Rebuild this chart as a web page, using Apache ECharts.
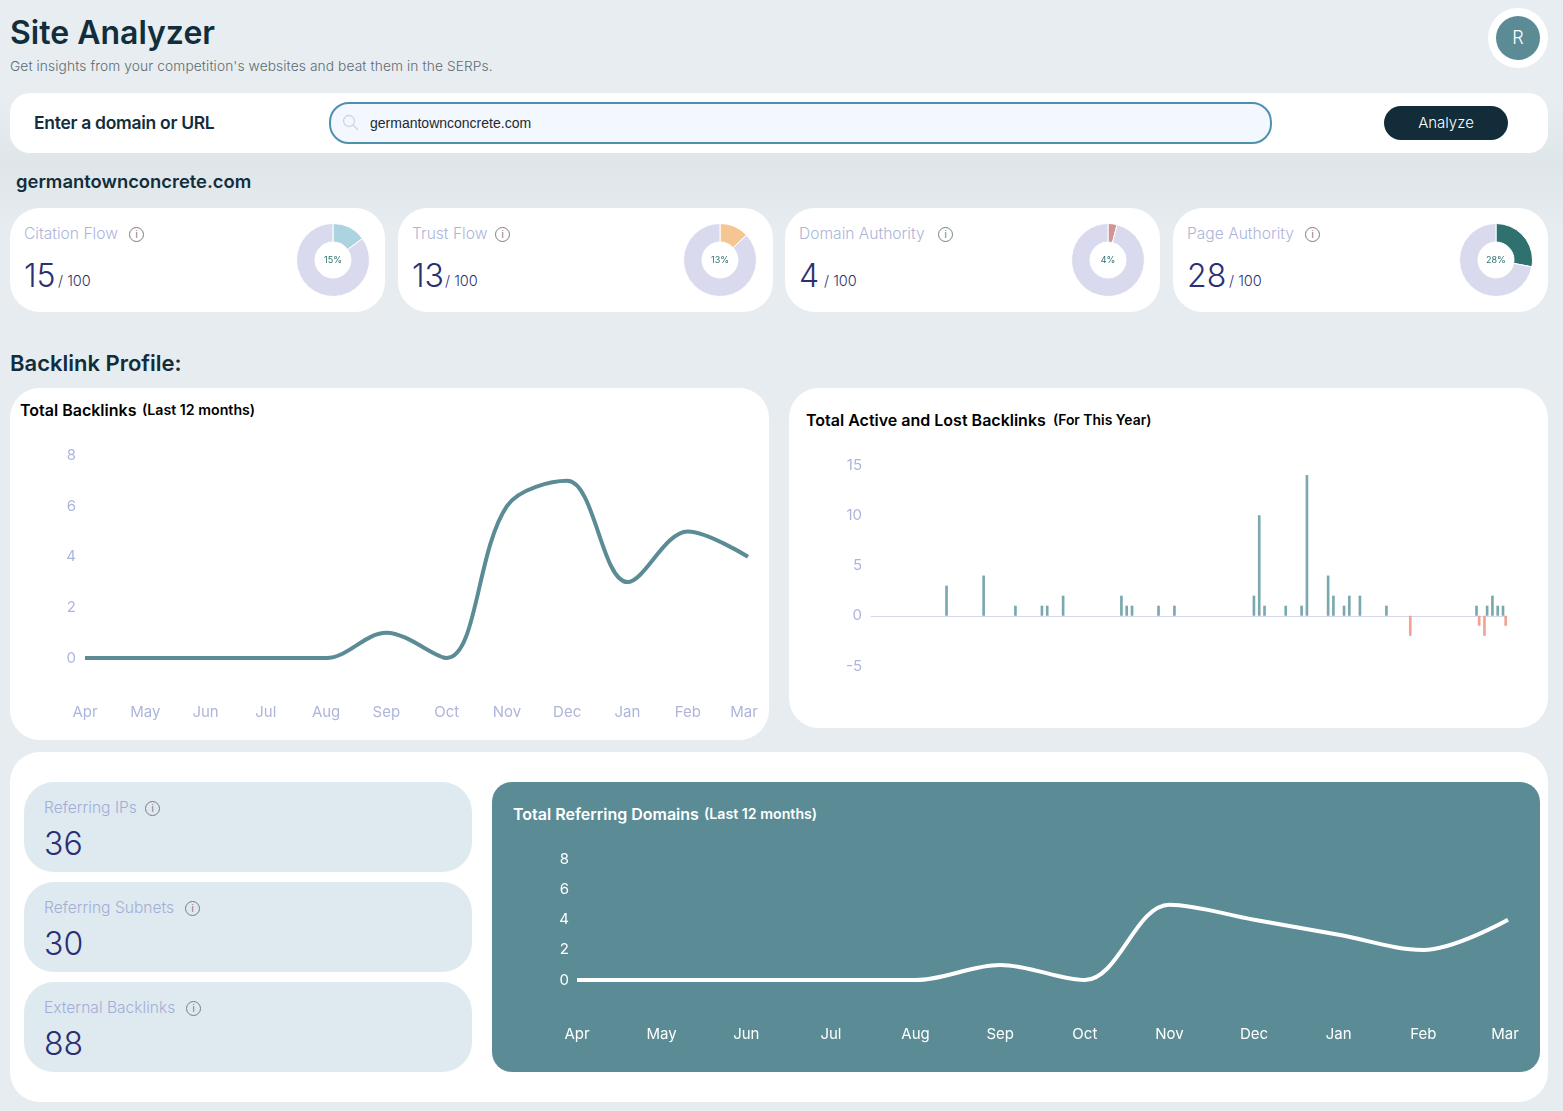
<!DOCTYPE html>
<html>
<head>
<meta charset="utf-8">
<title>Site Analyzer</title>
<script src="https://cdn.jsdelivr.net/npm/echarts@6/dist/echarts.min.js"></script>
<style>
    html, body { margin: 0; padding: 0; }
    body {
        position: relative; width: 1563px; height: 1111px; overflow: hidden;
        background: linear-gradient(#e7edf0 0, #e7edf0 100px, #dfe6e9 165px, #e6ecef 230px);
        font-family: "Inter", sans-serif; color: #122d3b;
    }
    .abs { position: absolute; white-space: nowrap; line-height: 1; }
    .panel { position: absolute; background: #fff; }
    .info {
        position: absolute; width: 13px; height: 13px; border: 1.5px solid #7d7d7d; border-radius: 50%;
        color: #7d7d7d; font-size: 10px; line-height: 13px; text-align: center;
        font-family: "Liberation Sans", sans-serif;
    }
    .chart { position: absolute; }
</style>
</head>
<body>

<div class="abs" style="left:10px;top:17px;font-size:32px;font-weight:600;">Site Analyzer</div>
<div class="abs" style="left:10px;top:60px;font-size:13.75px;font-weight:300;color:#5e6c73;letter-spacing:.1px;">Get insights from your competition's websites and beat them in the SERPs.</div>
<div class="panel" style="left:1488px;top:8px;width:60px;height:60px;border-radius:50%;"></div>
<div class="abs" style="left:1496px;top:16px;width:44px;height:44px;line-height:44px;border-radius:50%;background:#5b8c96;color:#fff;text-align:center;font-size:18px;font-weight:300;">R</div>

<div class="panel" style="left:10px;top:93px;width:1538px;height:60px;border-radius:20px;"></div>
<div class="abs" style="left:34px;top:114px;font-size:17.5px;font-weight:600;letter-spacing:-.3px;">Enter a domain or URL</div>
<div class="abs" style="left:329px;top:102px;width:939px;height:38px;border:2px solid #4f90ae;border-radius:20px;background:#f3f7fe;"></div>
<svg class="abs" style="left:342px;top:114px;" width="18" height="18" viewBox="0 0 18 18" fill="none" stroke="#cdd6e2" stroke-width="1.3"><circle cx="7" cy="7" r="5.5"/><path d="M11 11l5 5"/></svg>
<div class="abs" style="left:370px;top:116px;font-size:14px;font-family:'Liberation Sans',sans-serif;color:#1d2a33;">germantownconcrete.com</div>
<div class="abs" style="left:1384px;top:106px;width:124px;height:34px;line-height:34px;border-radius:17px;background:#122c3a;color:#fff;text-align:center;font-size:15px;font-weight:300;">Analyze</div>

<div class="abs" style="left:16px;top:172px;font-size:18.4px;font-weight:600;">germantownconcrete.com</div>
<div id="scoreCards"></div>

<div class="abs" style="left:10px;top:352px;font-size:22px;font-weight:600;">Backlink Profile:</div>

<div class="panel" style="left:10px;top:388px;width:759px;height:352px;border-radius:30px;"></div>
<div class="abs" style="left:20px;top:402px;font-size:16px;font-weight:600;color:#000;">Total Backlinks</div>
<div class="abs" style="left:142px;top:403px;font-size:14.2px;font-weight:600;color:#000;">(Last 12 months)</div>
<div class="chart" id="backlinksChart" style="left:10px;top:388px;width:759px;height:352px;"></div>

<div class="panel" style="left:789px;top:388px;width:759px;height:340px;border-radius:30px;"></div>
<div class="abs" style="left:806px;top:412px;font-size:16px;font-weight:600;color:#000;">Total Active and Lost Backlinks</div>
<div class="abs" style="left:1053px;top:414px;font-size:13.9px;font-weight:600;color:#000;">(For This Year)</div>
<div class="chart" id="activeLostChart" style="left:789px;top:388px;width:759px;height:340px;"></div>

<div class="panel" style="left:10px;top:752px;width:1538px;height:350px;border-radius:30px;"></div>
<div id="statCards"></div>

<div class="panel" style="left:492px;top:782px;width:1048px;height:290px;border-radius:20px;background:#5b8c96;"></div>
<div class="abs" style="left:513px;top:806px;font-size:16px;font-weight:600;color:#fff;">Total Referring Domains</div>
<div class="abs" style="left:704px;top:807px;font-size:14.2px;font-weight:600;color:#fff;">(Last 12 months)</div>
<div class="chart" id="domainsChart" style="left:492px;top:782px;width:1048px;height:290px;"></div>

<script>
var months = ['Apr', 'May', 'Jun', 'Jul', 'Aug', 'Sep', 'Oct', 'Nov', 'Dec', 'Jan', 'Feb', 'Mar'];
var totalBacklinks = [0, 0, 0, 0, 0, 1, 0, 6, 7, 3, 5, 4];
var referringDomains = [0, 0, 0, 0, 0, 1, 0, 5, 4, 3, 2, 4];

var activeBacklinks = [
    0, 0, 0, 0, 0, 0, 0, 0, 0, 0,
    0, 0, 0, 0, 3, 0, 0, 0, 0, 0,
    0, 4, 0, 0, 0, 0, 0, 1, 0, 0,
    0, 0, 1, 1, 0, 0, 2, 0, 0, 0,
    0, 0, 0, 0, 0, 0, 0, 2, 1, 1,
    0, 0, 0, 0, 1, 0, 0, 1, 0, 0,
    0, 0, 0, 0, 0, 0, 0, 0, 0, 0,
    0, 0, 2, 10, 1, 0, 0, 0, 1, 0,
    0, 1, 14, 0, 0, 0, 4, 2, 0, 1,
    2, 0, 2, 0, 0, 0, 0, 1, 0, 0,
    0, 0, 0, 0, 0, 0, 0, 0, 0, 0,
    0, 0, 0, 0, 1, 0, 1, 2, 1, 1
];
var lostBacklinks = [
    0, 0, 0, 0, 0, 0, 0, 0, 0, 0,
    0, 0, 0, 0, 0, 0, 0, 0, 0, 0,
    0, 0, 0, 0, 0, 0, 0, 0, 0, 0,
    0, 0, 0, 0, 0, 0, 0, 0, 0, 0,
    0, 0, 0, 0, 0, 0, 0, 0, 0, 0,
    0, 0, 0, 0, 0, 0, 0, 0, 0, 0,
    0, 0, 0, 0, 0, 0, 0, 0, 0, 0,
    0, 0, 0, 0, 0, 0, 0, 0, 0, 0,
    0, 0, 0, 0, 0, 0, 0, 0, 0, 0,
    0, 0, 0, 0, 0, 0, 0, 0, 0, 0,
    0, -2, 0, 0, 0, 0, 0, 0, 0, 0,
    0, 0, 0, 0, -1, -2, 0, 0, 0, -1
];

var scoreNames = ['Citation Flow', 'Trust Flow', 'Domain Authority', 'Page Authority'];
var scoreValues = [15, 13, 4, 28];
var scoreColors = ['#acd3e0', '#f5c592', '#cf9494', '#2f716e'];
var statNames = ['Referring IPs', 'Referring Subnets', 'External Backlinks'];
var statValues = [36, 30, 88];

var FONT = 'Inter';
var LABEL = '#aeb5da';

function el(parent, cls, css, text) {
    var d = document.createElement('div');
    d.className = cls;
    d.style.cssText = css;
    if (text !== undefined) d.textContent = text;
    parent.appendChild(d);
    return d;
}

// score cards with the small donuts
var scoreBox = document.getElementById('scoreCards');
var cardLeft = [10, 398, 785, 1173];
var infoLeft = [129, 495, 938, 1305];
var hundredLeft = [48, 47, 39, 56];
var donutCenter = [333, 720, 1108, 1496];
scoreNames.forEach(function (name, i) {
    var x = cardLeft[i];
    el(scoreBox, 'panel', 'left:' + x + 'px;top:208px;width:375px;height:104px;border-radius:30px;');
    el(scoreBox, 'abs', 'left:' + (x + 14) + 'px;top:226px;font-size:15.6px;font-weight:300;color:' + LABEL + ';', name);
    el(scoreBox, 'info', 'left:' + infoLeft[i] + 'px;top:227px;', 'i');
    el(scoreBox, 'abs', 'left:' + (x + 14) + 'px;top:260px;font-size:32px;font-weight:300;color:#2b2f73;', scoreValues[i]);
    el(scoreBox, 'abs', 'left:' + (x + hundredLeft[i]) + 'px;top:274px;font-size:14.5px;font-weight:300;color:#2b2f73;', '/ 100');

    var dom = el(scoreBox, 'chart', 'left:' + (donutCenter[i] - 48) + 'px;top:216px;width:96px;height:88px;');
    var chart = echarts.init(dom);
    chart.setOption({
        animation: false,
        series: [{
            type: 'pie',
            radius: [18, 36.5],
            center: [48, 44],
            startAngle: 90,
            silent: true,
            itemStyle: { borderColor: '#fff', borderWidth: 1 },
            label: {
                show: true, position: 'center', formatter: scoreValues[i] + '%',
                fontFamily: FONT, fontSize: 9, color: '#2f716e'
            },
            labelLine: { show: false },
            data: [
                { value: scoreValues[i], itemStyle: { color: scoreColors[i] } },
                { value: 100 - scoreValues[i], itemStyle: { color: '#d9daee' } }
            ]
        }]
    });
});

// stat cards beside the teal chart
var statBox = document.getElementById('statCards');
var statInfo = [145, 185, 186];
statNames.forEach(function (name, i) {
    var y = 782 + i * 100;
    el(statBox, 'panel', 'left:24px;top:' + y + 'px;width:448px;height:90px;border-radius:30px;background:#deeaf0;');
    el(statBox, 'abs', 'left:44px;top:' + (y + 18) + 'px;font-size:15.6px;font-weight:300;color:#a5add6;', name);
    el(statBox, 'info', 'left:' + statInfo[i] + 'px;top:' + (y + 18.5) + 'px;', 'i');
    el(statBox, 'abs', 'left:44px;top:' + (y + 46) + 'px;font-size:32px;font-weight:300;color:#2b2f73;', statValues[i]);
});

function lineOption(values, grid, lineColor, labelColor, marginY, marToRight) {
    return {
        animation: false,
        grid: grid,
        xAxis: {
            type: 'category',
            boundaryGap: false,
            data: months,
            axisLine: { show: false },
            axisTick: { show: false },
            axisLabel: {
                interval: 0, margin: 47, color: labelColor, fontFamily: FONT, fontSize: 15, fontWeight: 400,
                formatter: function (v) { return v == 'Mar' ? '{last|Mar}' : v; },
                rich: { last: { color: labelColor, fontFamily: FONT, fontSize: 15, fontWeight: 400, padding: [0, marToRight, 0, 0] } }
            }
        },
        yAxis: {
            type: 'value',
            min: 0,
            max: 8,
            interval: 2,
            splitLine: { show: false },
            axisLine: { show: false },
            axisTick: { show: false },
            axisLabel: { margin: marginY, padding: [3, 0, 0, 0], color: labelColor, fontFamily: FONT, fontSize: 15, fontWeight: 400 }
        },
        series: [{
            type: 'line',
            data: values,
            smooth: 0.35,
            showSymbol: false,
            clip: false,
            lineStyle: { color: lineColor, width: 4 }
        }]
    };
}

echarts.init(document.getElementById('backlinksChart')).setOption(
    lineOption(totalBacklinks, { left: 75, top: 67.5, width: 663, height: 202.5 }, '#5b8c96', LABEL, 9, 8)
);
echarts.init(document.getElementById('domainsChart')).setOption(
    lineOption(referringDomains, { left: 85, top: 77.5, width: 931, height: 120.5 }, '#ffffff', '#ffffff', 8, 6)
);

echarts.init(document.getElementById('activeLostChart')).setOption({
    animation: false,
    grid: { left: 82, top: 77, width: 636, height: 201 },
    xAxis: {
        type: 'category',
        data: activeBacklinks.map(function (v, i) { return i; }),
        axisLine: { onZero: true, lineStyle: { color: '#d5daea', width: 1 } },
        axisTick: { show: false },
        axisLabel: { show: false }
    },
    yAxis: {
        type: 'value',
        min: -5,
        max: 15,
        interval: 5,
        splitLine: { show: false },
        axisLine: { show: false },
        axisTick: { show: false },
        axisLabel: { margin: 9, padding: [3, 0, 0, 0], color: LABEL, fontFamily: FONT, fontSize: 15, fontWeight: 400 }
    },
    series: [
        { name: 'Active', type: 'bar', data: activeBacklinks, barGap: '0%', barCategoryGap: '0%', itemStyle: { color: '#7aa8ae' } },
        { name: 'Lost', type: 'bar', data: lostBacklinks, itemStyle: { color: '#f4a193' } }
    ]
});
</script>
</body>
</html>
